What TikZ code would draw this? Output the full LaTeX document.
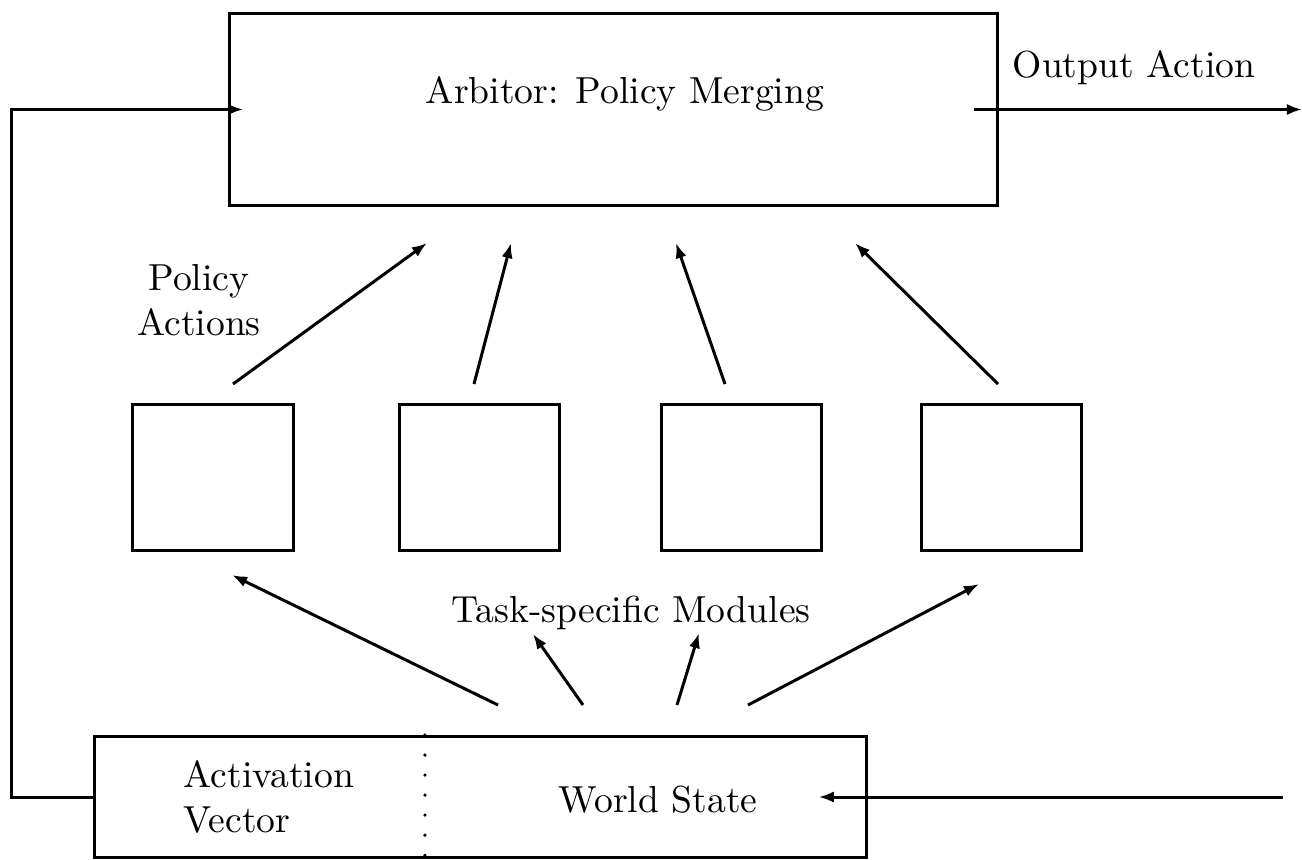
\documentclass[tikz,border=0pt]{standalone}
\usetikzlibrary{arrows.meta, positioning}
\tikzset{
    box/.style={
        rectangle,
        draw,
        line width=0.85pt,
        inner sep=0pt
    },
    module/.style={
        box,
        minimum width=1.6cm,
        minimum height=1.45cm
    },
    txt/.style={
        font=\fontsize{10.7}{12.8}\selectfont,
        inner sep=0pt
    },
    connector/.style={
        -{Latex[length=4.3pt,width=3.2pt]},
        line width=0.85pt
    },
    divider/.style={
        line width=1pt,
        line cap=round,
        dash pattern=on 0pt off 5.7pt
    }
}

\begin{document}
\begin{tikzpicture}[x=0.01cm, y=-0.01cm]
\useasboundingbox (0,0) rectangle (1302,859);

% arbiter on top
\node[box, minimum width=7.67cm, minimum height=1.91cm] (arbiter) at (613.5,109.5) {};
\node[txt, anchor=base] (arbtext) at (625,103) {Arbitor: Policy Merging};
\node[txt, anchor=base] (outtext) at (1134,77) {Output Action};
\coordinate (out) at (1302,109.5);
\draw[connector] ([xshift=-0.25cm]arbiter.east) -- (out);

% task-specific modules
\node[module] (m1) at (213,477.5) {};
\node[module, right=1.03cm of m1] (m2) {};
\node[module, right=0.99cm of m2] (m3) {};
\node[module, right=0.97cm of m3] (m4) {};
\node[txt, align=center] (poltext) at (199,300) {Policy\\Actions};
\node[txt, anchor=base] (tsmtext) at (631,622) {Task-specific Modules};

% world state at the bottom
\node[box, minimum width=7.71cm, minimum height=1.21cm] (state) at (480.5,797) {};
\draw[divider] ([xshift=-0.555cm]state.north) -- ([xshift=-0.555cm]state.south);
\node[txt, align=left, anchor=west] (acttext) at (183,797) {Activation\\Vector};
\node[txt, anchor=base] (wstext) at (658,812) {World State};
\coordinate (in) at (1283,797);
\draw[connector] (in) -- ([xshift=-0.49cm]state.east);

% feedback of the activation vector
\draw[connector] (state.west) -- ++(-82,0) |- ([xshift=0.15cm]arbiter.west);

% policy actions
\foreach \i/\sx/\tx in {1/233/427, 2/474/511, 3/725/676, 4/998/855} {
    \coordinate (p\i) at (\sx,384);
    \coordinate (q\i) at (\tx,243);
    \draw[connector] (p\i) -- (q\i);
}

% state to modules
\foreach \i/\sx/\tx/\ty in {1/498/232/575, 2/583/533/634, 3/677/699/633, 4/748/979/584} {
    \coordinate (s\i) at (\sx,705);
    \coordinate (t\i) at (\tx,\ty);
    \draw[connector] (s\i) -- (t\i);
}
\end{tikzpicture}
\end{document}
